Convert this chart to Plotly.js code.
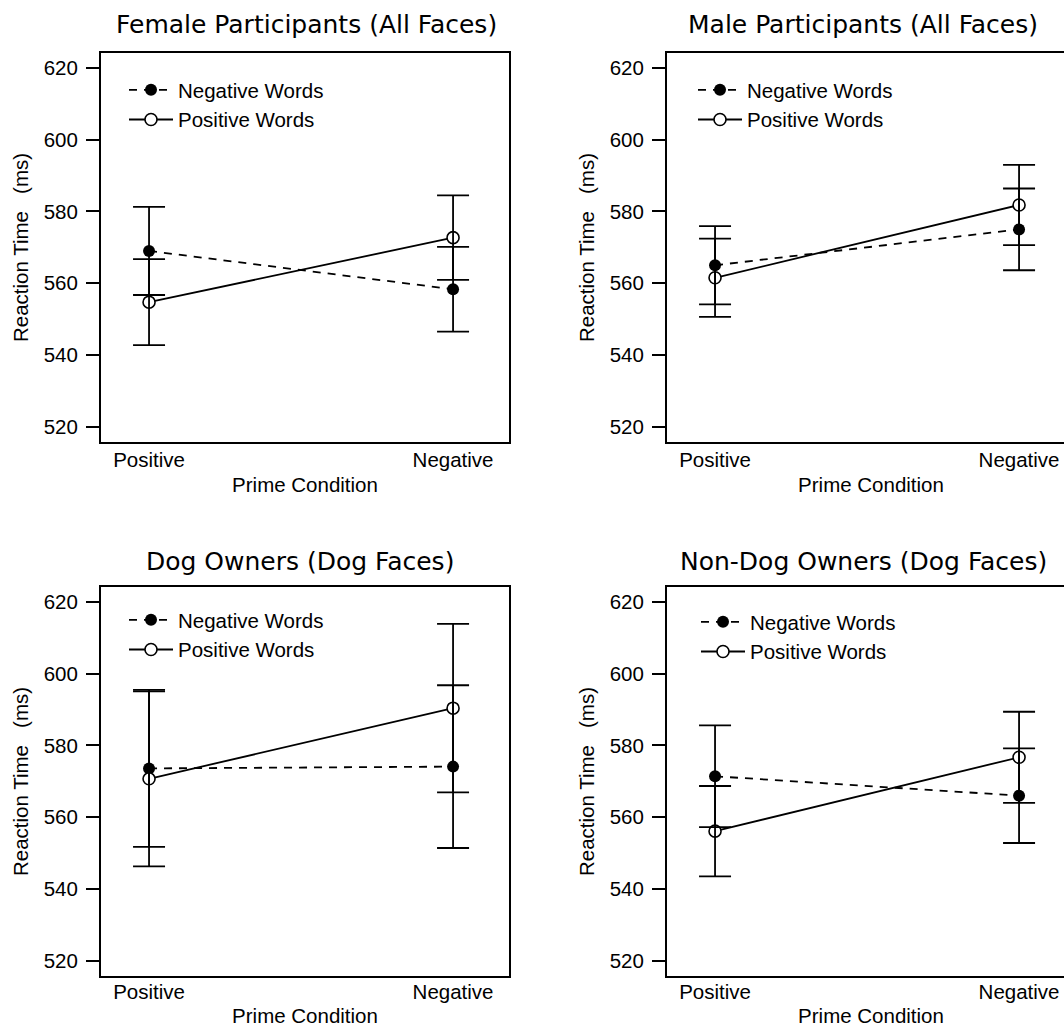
<!DOCTYPE html>
<html>
<head>
<meta charset="utf-8">
<script src="https://cdn.plot.ly/plotly-3.0.1.min.js"></script>
<style>
html, body { margin: 0; padding: 0; overflow: hidden; background: #fff; }
#chart { width: 1140px; height: 1027px; }
</style>
</head>
<body>
<div id="chart"></div>
<script>
// ---- data ----
const primeConditions = ["Positive", "Negative"];
const panelTitles = [
  "Female Participants (All Faces)",
  "Male Participants (All Faces)",
  "Dog Owners (Dog Faces)",
  "Non-Dog Owners (Dog Faces)"
];
const seriesNames = ["Negative Words", "Positive Words"];
const yTickValues = [520, 540, 560, 580, 600, 620];

const negWordsFemale = [569.0, 558.3];
const negWordsFemaleErr = [12.3, 11.8];
const posWordsFemale = [554.7, 572.7];
const posWordsFemaleErr = [12.0, 11.8];

const negWordsMale = [565.0, 575.0];
const negWordsMaleErr = [10.9, 11.4];
const posWordsMale = [561.5, 581.8];
const posWordsMaleErr = [10.9, 11.2];

const negWordsDogOwners = [573.6, 574.1];
const negWordsDogOwnersErr = [21.9, 22.7];
const posWordsDogOwners = [570.7, 590.4];
const posWordsDogOwnersErr = [24.4, 23.5];

const negWordsNonDogOwners = [571.4, 566.0];
const negWordsNonDogOwnersErr = [14.2, 13.2];
const posWordsNonDogOwners = [556.1, 576.7];
const posWordsNonDogOwnersErr = [12.6, 12.7];

// ---- layout geometry ----
const W = 1140, H = 1027;
const panelW = 408, panelH = 389;
const boxes = [
  {l: 101, t: 53,  titleX: 306, titleY: 24,  legX: 124, legY: 70},
  {l: 667, t: 53,  titleX: 863, titleY: 24,  legX: 693, legY: 70},
  {l: 101, t: 587, titleX: 300, titleY: 561, legX: 124, legY: 600},
  {l: 667, t: 587, titleX: 863, titleY: 561, legX: 696, legY: 602}
];
const panels = [
  [negWordsFemale, negWordsFemaleErr, posWordsFemale, posWordsFemaleErr],
  [negWordsMale, negWordsMaleErr, posWordsMale, posWordsMaleErr],
  [negWordsDogOwners, negWordsDogOwnersErr, posWordsDogOwners, posWordsDogOwnersErr],
  [negWordsNonDogOwners, negWordsNonDogOwnersErr, posWordsNonDogOwners, posWordsNonDogOwnersErr]
];

const sansFont = "Liberation Sans, Arial, Helvetica, sans-serif";
const titleFont = "DejaVu Sans, Verdana, sans-serif";
const fs = 20.5;
const traces = [];
const layout = {
  width: W, height: H,
  margin: {l: 0, r: 0, t: 0, b: 0},
  paper_bgcolor: "#fff", plot_bgcolor: "#fff",
  font: {family: sansFont, size: fs, color: "#000"},
  annotations: [],
  showlegend: true
};

panels.forEach((p, i) => {
  const s = i === 0 ? "" : String(i + 1);
  const xa = "x" + s, ya = "y" + s;
  const legendId = "legend" + s;
  const b = boxes[i];
  const [neg, negErr, pos, posErr] = p;

  traces.push({
    x: primeConditions, y: neg, name: seriesNames[0],
    xaxis: xa, yaxis: ya, legend: legendId,
    mode: "lines+markers", type: "scatter",
    line: {color: "#000", width: 1.8, dash: "8px,7px"},
    marker: {symbol: "circle", size: 12, color: "#000"},
    hoverinfo: "skip"
  });
  traces.push({
    x: primeConditions, y: pos, name: seriesNames[1],
    xaxis: xa, yaxis: ya, legend: legendId,
    mode: "lines+markers", type: "scatter",
    line: {color: "#000", width: 1.8},
    marker: {symbol: "circle", size: 12, color: "#fff", line: {color: "#000", width: 1.6}},
    hoverinfo: "skip"
  });
  [[neg, negErr], [pos, posErr]].forEach(([vals, errs]) => {
    traces.push({
      x: primeConditions, y: vals,
      xaxis: xa, yaxis: ya, showlegend: false,
      mode: "markers", type: "scatter",
      marker: {size: 1, color: "rgba(0,0,0,0)"},
      error_y: {type: "data", array: errs, visible: true, color: "#000", thickness: 1.8, width: 16},
      hoverinfo: "skip"
    });
  });

  layout["xaxis" + s] = {
    domain: [b.l / W, (b.l + panelW) / W],
    anchor: ya,
    type: "category",
    categoryorder: "array",
    categoryarray: primeConditions,
    range: [-0.158, 1.184],
    showgrid: false, zeroline: false,
    showline: true, linecolor: "#000", linewidth: 2, mirror: true,
    ticks: "",
    ticklabelstandoff: i < 2 ? -2 : -4,
    tickfont: {family: sansFont, size: fs, color: "#000"},
    title: {text: "Prime Condition", font: {family: sansFont, size: fs, color: "#000"}, standoff: i < 2 ? 8 : 10},
    automargin: false, fixedrange: true
  };
  layout["yaxis" + s] = {
    domain: [1 - (b.t + panelH) / H, 1 - b.t / H],
    anchor: xa,
    range: [515.7, 624.2],
    tickvals: yTickValues,
    ticktext: yTickValues.map(String),
    showgrid: false, zeroline: false,
    showline: true, linecolor: "#000", linewidth: 2, mirror: true,
    ticks: "outside", ticklen: 13, tickwidth: 2, tickcolor: "#000",
    ticklabelstandoff: 4,
    tickfont: {family: sansFont, size: fs, color: "#000"},
    title: {text: "Reaction Time\u00a0\u00a0\u00a0(ms)", font: {family: sansFont, size: fs, color: "#000"}, standoff: 10},
    automargin: false, fixedrange: true
  };
  layout[legendId] = {
    x: b.legX / W, xanchor: "left",
    y: 1 - b.legY / H, yanchor: "top",
    bgcolor: "rgba(0,0,0,0)", borderwidth: 0,
    font: {family: sansFont, size: fs, color: "#000"},
    itemwidth: 44, tracegroupgap: 0
  };
  layout.annotations.push({
    text: panelTitles[i], showarrow: false,
    xref: "paper", yref: "paper",
    x: b.titleX / W, y: 1 - b.titleY / H,
    xanchor: "center", yanchor: "middle",
    font: {family: titleFont, size: 25, color: "#000"}
  });
});

Plotly.newPlot("chart", traces, layout, {staticPlot: true, displayModeBar: false});
</script>
</body>
</html>
